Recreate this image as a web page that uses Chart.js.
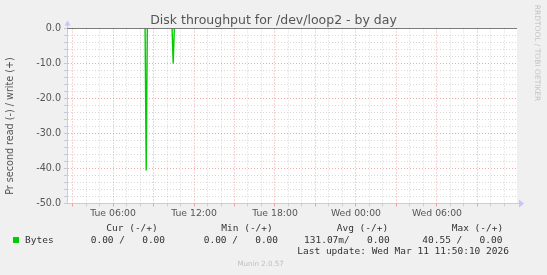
<!DOCTYPE html>
<html><head><meta charset="utf-8">
<script src="https://cdn.jsdelivr.net/npm/chart.js@4.4.1/dist/chart.umd.min.js"></script>
<style>
html,body{margin:0;padding:0;background:#f0f0f0;}
#wrap{position:relative;width:547px;height:275px;overflow:hidden;background:#f0f0f0;}
canvas{position:absolute;left:0;top:0;}
.t{position:absolute;white-space:pre;font-family:"DejaVu Sans Mono",monospace;font-size:9.5px;line-height:12px;color:#333;}
.s{position:absolute;white-space:pre;font-family:"DejaVu Sans",sans-serif;text-align:center;}
</style></head><body>
<div id="wrap"><canvas id="c" width="547" height="275"></canvas></div>
<script>
// ---- data ----
const seriesName = 'Bytes';
const times = [2.59, 8.375, 8.458, 8.542, 10.375, 10.458, 10.542, 35.93];   // hours since Tue 00:00
const readValues = [0, 0, -40.55, 0, 0, -10.0, 0, 0];
const xTickHours = [6, 12, 18, 24, 30];
const xTickLabels = ['Tue 06:00', 'Tue 12:00', 'Tue 18:00', 'Wed 00:00', 'Wed 06:00'];
const yTickValues = [0, -10, -20, -30, -40, -50];
const yTickLabels = ['0.0', '-10.0', '-20.0', '-30.0', '-40.0', '-50.0'];
const legendHeaders = ['Cur (-/+)', 'Min (-/+)', 'Avg (-/+)', 'Max (-/+)'];
const legendRead = ['0.00', '0.00', '131.07m', '40.55'];
const legendWrite = ['0.00', '0.00', '0.00', '0.00'];
const lastUpdate = 'Last update: Wed Mar 11 11:50:10 2026';
const titleText = 'Disk throughput for /dev/loop2 - by day';
const yTitle = 'Pr second read (-) / write (+)';
const sideText = 'RRDTOOL / TOBI OETIKER';
const footerText = 'Munin 2.0.57';

const GREEN = '#00cc00';
const MAJ = 'rgba(225,110,110,0.6)';
const MIN = 'rgba(160,160,160,0.42)';
const AXIS = '#c8c8f0';

const areaBg = {
  id: 'areaBg',
  beforeDraw(chart) {
    const {ctx, chartArea: a} = chart;
    ctx.save(); ctx.fillStyle = '#ffffff';
    ctx.fillRect(a.left, a.top, a.right - a.left, a.bottom - a.top);
    ctx.restore();
  }
};
const arrows = {
  id: 'arrows',
  afterDraw(chart) {
    const {ctx, chartArea: a} = chart;
    const xa = Math.round(a.left - 0.5) + 0.5;
    const ya = Math.round(a.bottom - 0.5) + 0.5;
    ctx.save();
    ctx.strokeStyle = AXIS; ctx.fillStyle = '#c4c4ff'; ctx.lineWidth = 1;
    ctx.beginPath(); ctx.moveTo(xa, a.top); ctx.lineTo(xa, a.top - 5); ctx.stroke();
    ctx.beginPath(); ctx.moveTo(xa, a.top - 8); ctx.lineTo(xa - 3, a.top - 3); ctx.lineTo(xa + 3, a.top - 3); ctx.closePath(); ctx.fill();
    ctx.beginPath(); ctx.moveTo(a.right, ya); ctx.lineTo(a.right + 3, ya); ctx.stroke();
    ctx.beginPath(); ctx.moveTo(a.right + 7, ya); ctx.lineTo(a.right + 2, ya - 4); ctx.lineTo(a.right + 2, ya + 4); ctx.closePath(); ctx.fill();
    ctx.restore();
  }
};

const pts = times.map((t, i) => ({x: t, y: readValues[i]}));
const zeroLine = [{x: times[0], y: 0}, {x: times[times.length - 1], y: 0}];

new Chart(document.getElementById('c'), {
  type: 'line',
  data: {
    datasets: [
      {label: seriesName, data: pts, borderColor: GREEN, borderWidth: 1.4, pointRadius: 0, tension: 0, order: 2,
        segment: {borderColor: s => (s.p0.parsed.y === 0 && s.p1.parsed.y === 0) ? 'rgba(0,0,0,0)' : GREEN}},
      {label: 'zero', data: zeroLine, borderColor: '#000000', borderWidth: 1, pointRadius: 0, tension: 0, order: 1}
    ]
  },
  options: {
    responsive: false, animation: false, devicePixelRatio: 1,
    layout: {padding: {left: 0, right: 0, top: 0, bottom: 41.5}},
    plugins: {
      legend: {display: false}, tooltip: {enabled: false},
      title: {display: true, text: titleText, color: '#555555',
        font: {family: 'DejaVu Sans', size: 12.5, weight: 'normal', lineHeight: 1.2},
        padding: {top: 13, bottom: 0.5}}
    },
    scales: {
      x: {
        type: 'linear', min: times[0], max: times[times.length - 1],
        afterFit(s) { s.height = 30; },
        afterBuildTicks(s) { const a = []; for (let h = 3; h <= 35; h++) a.push({value: h}); s.ticks = a; },
        ticks: {autoSkip: false, maxRotation: 0, padding: 2, color: '#555555',
          font: {family: 'DejaVu Sans', size: 9.3},
          callback(v) { const i = xTickHours.indexOf(v); return i >= 0 ? xTickLabels[i] : ''; }},
        grid: {color: c => (c.tick && c.tick.value % 3 === 0) ? MAJ : MIN,
          tickColor: c => (c.tick && c.tick.value % 3 === 0) ? MAJ : MIN, tickLength: 3},
        border: {color: AXIS, dash: [1, 2]}
      },
      y: {
        min: -50, max: 0,
        afterFit(s) { s.width = 67; },
        ticks: {stepSize: 2, autoSkip: false, padding: 3, color: '#555555',
          font: {family: 'DejaVu Sans', size: 9.6},
          callback(v) { const i = yTickValues.indexOf(v); return i >= 0 ? yTickLabels[i] : ''; }},
        grid: {color: c => (c.tick && c.tick.value === 0) ? 'rgba(0,0,0,0)' : (c.tick && c.tick.value % 10 === 0) ? MAJ : MIN,
          tickColor: '#c8c8dc', tickLength: 3},
        border: {color: AXIS, dash: [1, 2]}
      },
      y2: {
        position: 'right', min: 0, max: 1,
        afterFit(s) { s.width = 30; },
        ticks: {display: false}, grid: {display: false}, border: {display: false}
      }
    }
  },
  plugins: [areaBg, arrows]
});

// ---- text outside the plot ----
const wrap = document.getElementById('wrap');
function addText(cls, txt, css) {
  const d = document.createElement('div'); d.className = cls; d.textContent = txt;
  Object.assign(d.style, css); wrap.appendChild(d); return d;
}
addText('s', yTitle, {left: '-90px', top: '120px', width: '200px', lineHeight: '12px', fontSize: '9.6px', color: '#555', transform: 'rotate(-90deg)'});
addText('s', sideText, {left: '436.7px', top: '48px', width: '200px', lineHeight: '10px', fontSize: '7.5px', color: '#c4c4c4', transform: 'rotate(90deg)'});
addText('s', footerText, {left: '210.7px', top: '259px', width: '100px', lineHeight: '10px', fontSize: '7.1px', color: '#c0c0c0'});
const headX = [106.3, 221.3, 336.7, 451.7];
legendHeaders.forEach((h, i) => addText('t', h, {left: headX[i] + 'px', top: '222px'}));
const valX = [90.7, 203.7, 304, 422.3];
legendRead.forEach((r, i) => {
  const w = legendWrite[i].padStart(7, ' ');
  const rr = /[a-zA-Z]$/.test(r) ? r : r + ' ';
  addText('t', rr + '/' + w, {left: valX[i] + 'px', top: '233.7px'});
});
addText('t', seriesName, {left: '25px', top: '233.7px'});
const sq = document.createElement('div');
Object.assign(sq.style, {position: 'absolute', left: '13px', top: '237px', width: '6px', height: '6px', background: GREEN});
wrap.appendChild(sq);
addText('t', lastUpdate, {left: '297.3px', top: '245px'});
</script>
</body></html>
